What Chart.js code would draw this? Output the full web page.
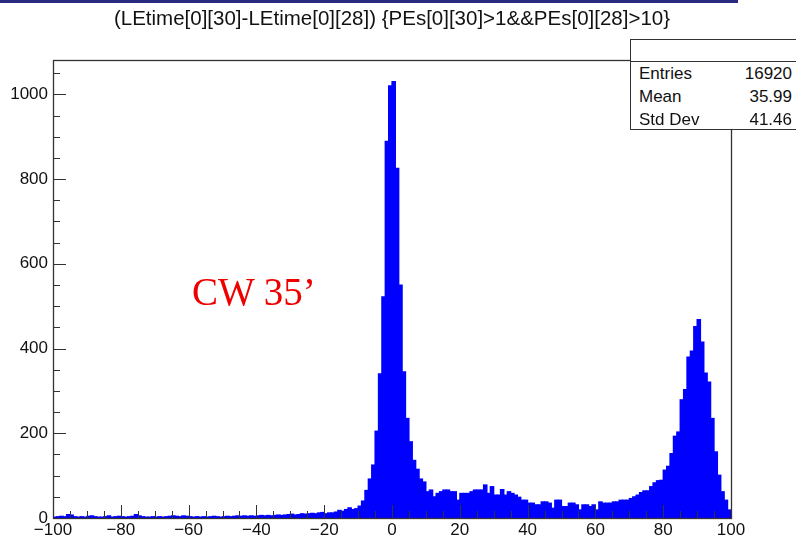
<!DOCTYPE html>
<html>
<head>
<meta charset="utf-8">
<script src="https://cdn.jsdelivr.net/npm/chart.js@4.4.1/dist/chart.umd.min.js"></script>
<style>
  html, body { margin: 0; padding: 0; background: #fff; }
  #wrap { position: relative; width: 796px; height: 541px; overflow: hidden;
          font-family: "Liberation Sans", Arial, Helvetica, sans-serif; color: #111; }
  #chart { position: absolute; left: 0; top: 0; }
  #topbar { position: absolute; left: 0; top: 0; width: 738px; height: 3px; background: #2a2a80; }
  #title { position: absolute; left: 0; top: 6px; width: 784px; text-align: center; font-size: 20.5px; line-height: 24px; }
  #stats { position: absolute; left: 630px; top: 39px; width: 180px; height: 91px;
           border: 1px solid #333; background: #fff; box-sizing: border-box; }
  #stats .head { height: 21px; border-bottom: 1px solid #333; }
  #stats .row { position: relative; height: 23px; line-height: 23px; font-size: 17px; }
  #stats .row span { position: absolute; }
  #stats .row .k { left: 8px; }
  #stats .row .v { right: 17px; }
  #cw { position: absolute; left: 192px; top: 269px; font-family: "Liberation Serif", "Times New Roman", serif;
        font-size: 39px; color: #ee0000; white-space: nowrap; }
</style>
</head>
<body>
<div id="wrap">
  <canvas id="chart" width="796" height="541"></canvas>
  <div id="topbar"></div>
  <div id="title">(LEtime[0][30]-LEtime[0][28]) {PEs[0][30]&gt;1&amp;&amp;PEs[0][28]&gt;10}</div>
  <div id="stats">
    <div class="head"></div>
    <div class="row"><span class="k">Entries</span><span class="v">16920</span></div>
    <div class="row"><span class="k">Mean</span><span class="v">35.99</span></div>
    <div class="row"><span class="k">Std Dev</span><span class="v">41.46</span></div>
  </div>
  <div id="cw">CW 35’</div>
</div>
<script>
// histogram binning: 200 bins of width 1 from -100 to 100
const X_MIN = -100;
const X_MAX = 100;
const BIN_WIDTH = 1;

// bin contents, split by region
// bins -100 .. -21
const tailCounts = [
  2, 3, 4, 3, 8, 7, 3, 2, 3, 2,
  4, 5, 3, 2, 2, 3, 5, 2, 3, 4,
  3, 2, 3, 4, 8, 5, 3, 2, 2, 3,
  2, 3, 2, 3, 4, 5, 4, 3, 5, 4,
  3, 2, 3, 2, 3, 2, 3, 4, 3, 2,
  3, 4, 3, 4, 5, 4, 5, 4, 5, 4,
  5, 6, 5, 6, 5, 6, 7, 6, 7, 8,
  9, 7, 8, 10, 9, 10, 11, 10, 12, 13
];
// bins -20 .. 19
const peakCounts = [
  10, 12, 12, 14, 18, 16, 20, 24, 20, 22,
  28, 40, 65, 92, 125, 205, 340, 522, 889, 1020,
  1030, 825, 550, 345, 235, 180, 136, 115, 92, 85,
  62, 66, 50, 58, 62, 66, 66, 62, 62, 42
];
// bins 20 .. 69
const plateauCounts = [
  58, 58, 58, 62, 66, 66, 66, 78, 58, 74,
  54, 54, 67, 54, 62, 58, 54, 49, 42, 42,
  35, 35, 31, 31, 38, 38, 35, 23, 42, 42,
  27, 27, 35, 35, 31, 19, 31, 31, 27, 31,
  19, 38, 35, 35, 35, 38, 38, 42, 42, 42
];
// bins 70 .. 99
const peak90Counts = [
  46, 50, 54, 60, 64, 64, 74, 83, 88, 89,
  113, 122, 152, 193, 203, 279, 303, 380, 394, 452,
  468, 415, 342, 321, 235, 156, 101, 62, 42, 19
];

// axis labels
const xTickLabels = [-100, -80, -60, -40, -20, 0, 20, 40, 60, 80, 100];
const yTickLabels = [0, 200, 400, 600, 800, 1000];
const Y_MAX = 1081;

const counts = [...tailCounts, ...peakCounts, ...plateauCounts, ...peak90Counts];
// one bar per bin, placed at the bin centre
const bins = counts.map((c, i) => ({ x: X_MIN + (i + 0.5) * BIN_WIDTH, y: c }));

const FONT = "'Liberation Sans', Arial, Helvetica, sans-serif";

// ROOT style frame with ticks pointing inwards, drawn over the histogram
const rootFrame = {
  id: "rootFrame",
  afterDatasetsDraw(chart) {
    const { ctx, chartArea: a, scales } = chart;
    const xs = scales.x, ys = scales.y;
    ctx.save();
    ctx.strokeStyle = "#333";
    ctx.lineWidth = 1;
    ctx.beginPath();
    for (let v = X_MIN; v <= X_MAX; v += 5) {
      const px = Math.round(xs.getPixelForValue(v)) + 0.5;
      const len = v % 20 === 0 ? 13 : 7;
      ctx.moveTo(px, a.bottom);
      ctx.lineTo(px, a.bottom - len);
    }
    for (let v = 0; v <= Y_MAX; v += 50) {
      const py = Math.round(ys.getPixelForValue(v)) + 0.5;
      const len = v % 200 === 0 ? 13 : 7;
      ctx.moveTo(a.left, py);
      ctx.lineTo(a.left + len, py);
    }
    ctx.stroke();
    ctx.lineWidth = 1.3;
    ctx.strokeRect(Math.round(a.left) + 0.5, Math.round(a.top) + 0.5,
                   Math.round(a.width), Math.round(a.height));
    ctx.restore();
  }
};

new Chart(document.getElementById("chart").getContext("2d"), {
  type: "bar",
  data: {
    datasets: [{
      data: bins,
      backgroundColor: "#0000ff",
      borderWidth: 0,
      barPercentage: 1,
      categoryPercentage: 1,
      inflateAmount: 0.6
    }]
  },
  options: {
    responsive: false,
    animation: false,
    devicePixelRatio: 1,
    layout: { padding: { top: 60, right: 65, left: 0, bottom: 0 } },
    plugins: { legend: { display: false }, tooltip: { enabled: false }, title: { display: false } },
    scales: {
      x: {
        type: "linear",
        min: X_MIN,
        max: X_MAX,
        offset: false,
        grid: { display: false, drawTicks: false },
        border: { display: false },
        afterBuildTicks: (s) => { s.ticks = xTickLabels.map((v) => ({ value: v })); },
        afterFit: (s) => { s.height = 23; },
        ticks: {
          padding: 2,
          maxRotation: 0,
          autoSkip: false,
          color: "#111",
          font: { family: FONT, size: 17 },
          callback: (v) => (v < 0 ? "\u2212" + Math.abs(v) : String(v))
        }
      },
      y: {
        min: 0,
        max: Y_MAX,
        grid: { display: false, drawTicks: false },
        border: { display: false },
        afterBuildTicks: (s) => { s.ticks = yTickLabels.map((v) => ({ value: v })); },
        afterFit: (s) => { s.width = 53; },
        ticks: {
          padding: 5,
          color: "#111",
          font: { family: FONT, size: 17 },
          callback: (v) => String(v)
        }
      }
    }
  },
  plugins: [rootFrame]
});
</script>
</body>
</html>
